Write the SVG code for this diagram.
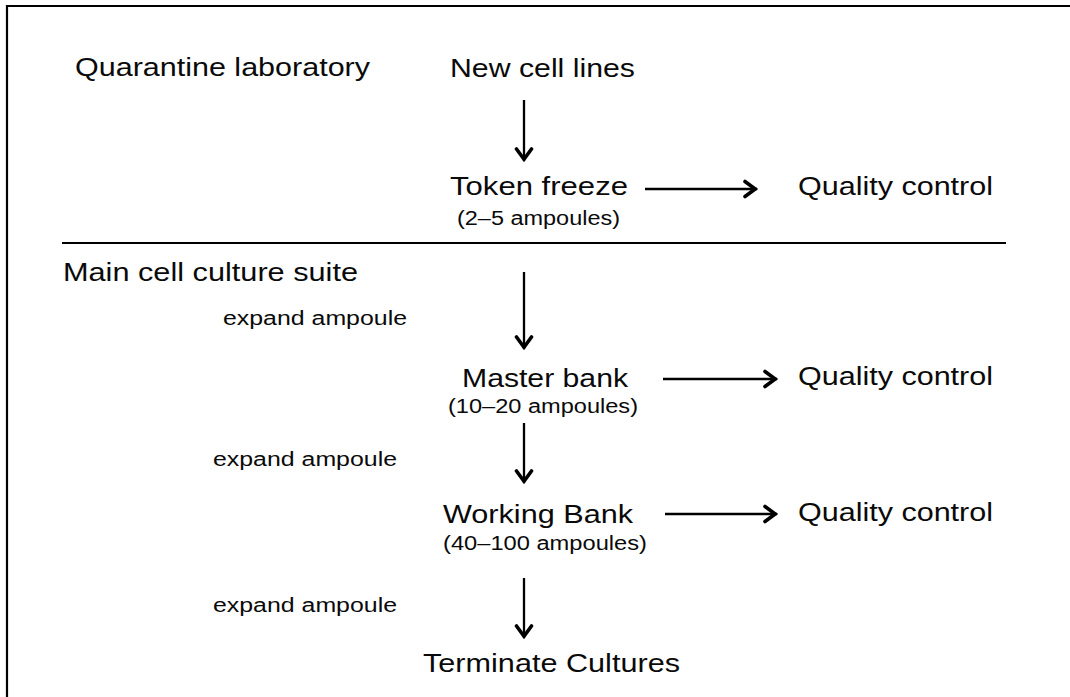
<svg xmlns="http://www.w3.org/2000/svg" width="1070" height="697" viewBox="0 0 1070 697">
<style>
text{font-family:"Liberation Sans",Arial,Helvetica,sans-serif;fill:#0a0a0a}
.big{font-size:25px}
.sm{font-size:20px}
.conn line{stroke:#000;stroke-width:2.3;fill:none}
.frame{stroke:#000;stroke-width:2.2;fill:none}
</style>
<defs>
<marker id="ah" viewBox="-18 -10 20 20" refX="0" refY="0" markerWidth="20" markerHeight="20" markerUnits="userSpaceOnUse" orient="auto">
<path d="M-12,-7.5 L-1.8,0 L-12,7.5" fill="none" stroke="#000" stroke-width="3.6" stroke-linejoin="miter" stroke-linecap="round"/>
</marker>
</defs>
<rect width="1070" height="697" fill="#fff"/>
<path class="frame" d="M7,697 V6 H1070"/>
<line class="frame" x1="62" y1="243" x2="1006" y2="243" stroke-width="2.5"/>

<g id="label-quarantine"><text class="big" x="75" y="76" textLength="295" lengthAdjust="spacingAndGlyphs">Quarantine laboratory</text></g>
<g id="label-main"><text class="big" x="63" y="281" textLength="295" lengthAdjust="spacingAndGlyphs">Main cell culture suite</text></g>

<g id="node-new"><text class="big" x="450" y="77" textLength="185" lengthAdjust="spacingAndGlyphs">New cell lines</text></g>
<g id="node-token"><text class="big" x="450" y="195" textLength="178" lengthAdjust="spacingAndGlyphs">Token freeze</text><text class="sm" x="457" y="225" textLength="163" lengthAdjust="spacingAndGlyphs">(2–5 ampoules)</text></g>
<g id="node-qc1"><text class="big" x="798" y="195" textLength="195" lengthAdjust="spacingAndGlyphs">Quality control</text></g>
<g id="node-master"><text class="big" x="462" y="387" textLength="166" lengthAdjust="spacingAndGlyphs">Master bank</text><text class="sm" x="448" y="413" textLength="190" lengthAdjust="spacingAndGlyphs">(10–20 ampoules)</text></g>
<g id="node-qc2"><text class="big" x="798" y="385" textLength="195" lengthAdjust="spacingAndGlyphs">Quality control</text></g>
<g id="node-working"><text class="big" x="443" y="523" textLength="190" lengthAdjust="spacingAndGlyphs">Working Bank</text><text class="sm" x="443" y="550" textLength="204" lengthAdjust="spacingAndGlyphs">(40–100 ampoules)</text></g>
<g id="node-qc3"><text class="big" x="798" y="521" textLength="195" lengthAdjust="spacingAndGlyphs">Quality control</text></g>
<g id="node-terminate"><text class="big" x="423" y="672" textLength="257" lengthAdjust="spacingAndGlyphs">Terminate Cultures</text></g>

<g id="connectors" class="conn">
<line x1="524" y1="100" x2="524" y2="161" marker-end="url(#ah)"/>
<line x1="645" y1="189" x2="757" y2="189" marker-end="url(#ah)"/>
<line x1="524" y1="272" x2="524" y2="349" marker-end="url(#ah)"/>
<text class="sm" x="223" y="325" textLength="184" lengthAdjust="spacingAndGlyphs">expand ampoule</text>
<line x1="663" y1="379" x2="777" y2="379" marker-end="url(#ah)"/>
<line x1="524" y1="423" x2="524" y2="483" marker-end="url(#ah)"/>
<text class="sm" x="213" y="466" textLength="184" lengthAdjust="spacingAndGlyphs">expand ampoule</text>
<line x1="665" y1="514" x2="777" y2="514" marker-end="url(#ah)"/>
<line x1="524" y1="578" x2="524" y2="638" marker-end="url(#ah)"/>
<text class="sm" x="213" y="612" textLength="184" lengthAdjust="spacingAndGlyphs">expand ampoule</text>
</g>
</svg>
